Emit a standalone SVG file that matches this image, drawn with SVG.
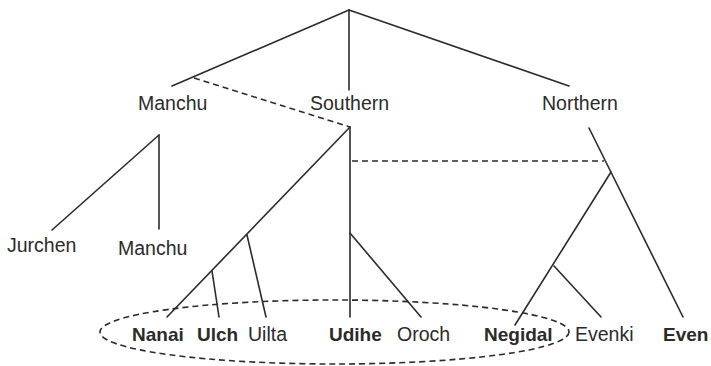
<svg xmlns="http://www.w3.org/2000/svg" width="711" height="366" viewBox="0 0 711 366">
<style>
.l{stroke:#2b2b2b;stroke-width:1.6;fill:none;stroke-linecap:round}
.d{stroke:#2b2b2b;stroke-width:1.6;fill:none;stroke-dasharray:6 4}
text{font-family:"Liberation Sans",Arial,sans-serif;font-size:19.5px;fill:#2b2b2b}
.b{font-weight:bold;font-size:19px}
</style>
<rect width="711" height="366" fill="#fff"/>
<g id="connectors">
<line class="l" x1="349" y1="10" x2="172" y2="86"/>
<line class="l" x1="349" y1="10" x2="349" y2="90"/>
<line class="l" x1="349" y1="10" x2="569" y2="86"/>
<line class="d" x1="194" y1="78" x2="350" y2="127"/>
<line class="l" x1="159" y1="135" x2="52" y2="230"/>
<line class="l" x1="159" y1="135" x2="159" y2="229"/>
<line class="l" x1="350" y1="127" x2="167" y2="317"/>
<line class="l" x1="350" y1="127" x2="350" y2="317"/>
<line class="l" x1="212" y1="271" x2="219" y2="317"/>
<line class="l" x1="247" y1="235" x2="266" y2="317"/>
<line class="l" x1="350" y1="233" x2="421" y2="317"/>
<line class="d" x1="352" y1="161" x2="604" y2="161"/>
<line class="l" x1="589" y1="128" x2="683" y2="317"/>
<line class="l" x1="611" y1="172" x2="515" y2="325"/>
<line class="l" x1="554" y1="266" x2="601" y2="317"/>
<ellipse class="d" cx="334.5" cy="332" rx="234.5" ry="32"/>
</g>
<g id="n-manchu-group"><text x="138" y="110">Manchu</text></g>
<g id="n-southern"><text x="310" y="110">Southern</text></g>
<g id="n-northern"><text x="542" y="110">Northern</text></g>
<g id="n-jurchen"><text x="7" y="252">Jurchen</text></g>
<g id="n-manchu"><text x="118" y="255">Manchu</text></g>
<g id="n-nanai"><text class="b" x="132" y="341">Nanai</text></g>
<g id="n-ulch"><text class="b" x="197" y="341">Ulch</text></g>
<g id="n-uilta"><text x="248" y="341">Uilta</text></g>
<g id="n-udihe"><text class="b" x="329" y="341">Udihe</text></g>
<g id="n-oroch"><text x="397" y="341">Oroch</text></g>
<g id="n-negidal"><text class="b" x="484" y="341">Negidal</text></g>
<g id="n-evenki"><text x="575" y="341">Evenki</text></g>
<g id="n-even"><text class="b" x="663" y="341">Even</text></g>
</svg>
